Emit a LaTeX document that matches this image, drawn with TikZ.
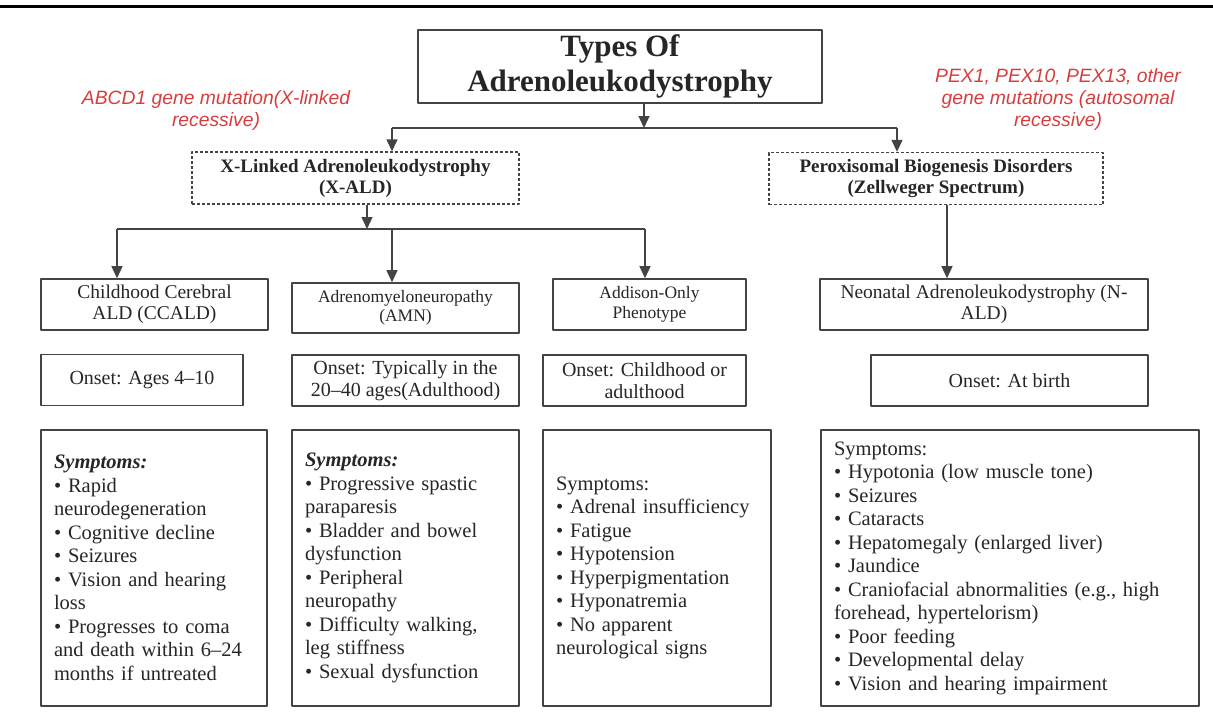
\documentclass[tikz,border=0pt]{standalone}
\usepackage{fontspec}
\setmainfont{Liberation Serif}
\newfontfamily\notefont{Liberation Sans}
\usetikzlibrary{arrows.meta}
\definecolor{notered}{RGB}{214,62,62}
\definecolor{edgegray}{RGB}{68,68,68}
\begin{document}
\begin{tikzpicture}[x=1pt,y=-1pt,>={Triangle[width=11pt,length=12pt]},line join=round,
	box/.style={draw=edgegray,line width=1.6pt,align=center,inner sep=0pt,text=black!85},
	titlebox/.style={box,minimum width=404pt,minimum height=73pt,font=\fontsize{31}{35}\selectfont\bfseries},
	groupbox/.style={box,line width=1.4pt,dash pattern=on 3pt off 2pt,minimum height=52pt,font=\fontsize{19}{21}\selectfont\bfseries},
	typebox/.style={box,minimum height=51pt,font=\fontsize{19.5}{21.5}\selectfont},
	smalltype/.style={font=\fontsize{17.5}{19.5}\selectfont},
	onsetbox/.style={box,minimum height=51pt,font=\fontsize{20}{22.5}\selectfont},
	symbox/.style={box,align=left,minimum height=276pt,inner xsep=13pt,font=\fontsize{20.5}{23.5}\selectfont},
	note/.style={align=center,text=notered,font=\notefont\itshape\fontsize{19.3}{22}\selectfont},
	link/.style={draw=edgegray,line width=1.4pt}]
	\useasboundingbox (0,0) rectangle (1213,715);
	\draw[line width=3pt] (0,6)--(1213,6);
	% top level
	\node[titlebox] (title) at (620,66.5) {Types Of\\Adrenoleukodystrophy};
	\node[note] (xnote) at (216,111) {ABCD1 gene mutation(X-linked\\recessive)};
	\node[note] (pnote) at (1058,100) {PEX1, PEX10, PEX13, other\\gene mutations (autosomal\\recessive)};
	\node[groupbox,minimum width=327pt] (xald) at (355.5,178) {X-Linked Adrenoleukodystrophy\\(X-ALD)};
	\node[groupbox,minimum width=334pt] (pbd) at (936,178.5) {Peroxisomal Biogenesis Disorders\\(Zellweger Spectrum)};
	% types
	\node[typebox,minimum width=227pt] (ccald) at (154.5,304.5) {Childhood Cerebral\\ALD (CCALD)};
	\node[typebox,smalltype,minimum width=227pt,minimum height=50pt] (amn) at (405.5,308) {Adrenomyeloneuropathy\\(AMN)};
	\node[typebox,smalltype,minimum width=193pt] (addison) at (649.5,304.5) {Addison-Only\\Phenotype};
	\node[typebox,minimum width=328pt] (nald) at (984,304.5) {Neonatal Adrenoleukodystrophy (N-\\ALD)};
	% onset
	\node[onsetbox,minimum width=202pt] (ccaldon) at (142,380) {Onset: Ages 4--10};
	\node[onsetbox,minimum width=227pt] (amnon) at (405.5,380.5) {Onset: Typically in the\\20--40 ages(Adulthood)};
	\node[onsetbox,minimum width=203pt] (addisonon) at (644.5,380.5) {Onset: Childhood or\\adulthood};
	\node[onsetbox,minimum width=277pt] (naldon) at (1009.5,380.5) {Onset: At birth};
	% symptoms
	\node[symbox,text width=200pt] (ccaldsym) at (154,568) {\textbf{\textit{Symptoms:}}\\• Rapid\\neurodegeneration\\• Cognitive decline\\• Seizures\\• Vision and hearing\\loss\\• Progresses to coma\\and death within 6--24\\months if untreated};
	\node[symbox,text width=201pt] (amnsym) at (405.5,568) {\textbf{\textit{Symptoms:}}\\• Progressive spastic\\paraparesis\\• Bladder and bowel\\dysfunction\\• Peripheral\\neuropathy\\• Difficulty walking,\\leg stiffness\\• Sexual dysfunction};
	\node[symbox,text width=202pt] (addisonsym) at (657,568) {Symptoms:\\• Adrenal insufficiency\\• Fatigue\\• Hypotension\\• Hyperpigmentation\\• Hyponatremia\\• No apparent\\neurological signs};
	\node[symbox,text width=352pt] (naldsym) at (1010,568) {Symptoms:\\• Hypotonia (low muscle tone)\\• Seizures\\• Cataracts\\• Hepatomegaly (enlarged liver)\\• Jaundice\\• Craniofacial abnormalities (e.g., high\\forehead, hypertelorism)\\• Poor feeding\\• Developmental delay\\• Vision and hearing impairment};
	% connectors
	\coordinate (tl) at (392,128);
	\coordinate (tr) at (897,128);
	\draw[link,->] ([xshift=24pt]title.south)--([xshift=24pt]title.south |- tl);
	\draw[link] (tl)--(tr);
	\draw[link,->] (tl)--(tl |- xald.north);
	\draw[link,->] (tr)--(tr |- pbd.north);
	\coordinate (bl) at (117,229);
	\coordinate (bm) at (392,229);
	\coordinate (br) at (645,229);
	\draw[link,->] ([xshift=11.5pt]xald.south)--([xshift=11.5pt]xald.south |- bm);
	\draw[link] (bl)--(br);
	\draw[link,->] (bl)--(bl |- ccald.north);
	\draw[link,->] (bm)--(bm |- amn.north);
	\draw[link,->] (br)--(br |- addison.north);
	\draw[link,->] ([xshift=11pt]pbd.south)--([xshift=11pt]pbd.south |- nald.north);
\end{tikzpicture}
\end{document}
